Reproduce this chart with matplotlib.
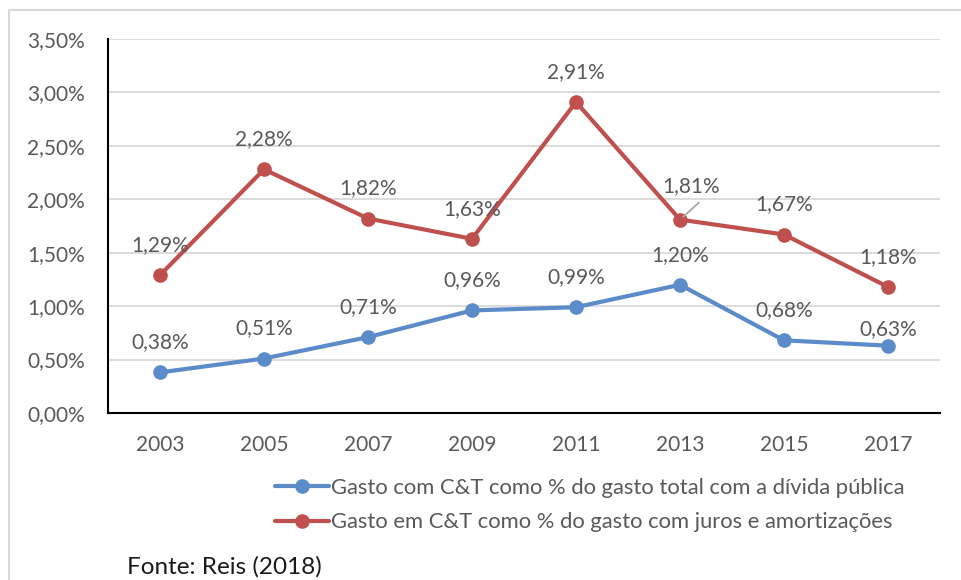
import matplotlib.pyplot as plt
from matplotlib.patches import Rectangle
from matplotlib.ticker import FuncFormatter, MultipleLocator

years = ['2003', '2005', '2007', '2009', '2011', '2013', '2015', '2017']
divida_total = [0.38, 0.51, 0.71, 0.96, 0.99, 1.20, 0.68, 0.63]
juros_amort = [1.29, 2.28, 1.82, 1.63, 2.91, 1.81, 1.67, 1.18]

label_blue = 'Gasto com C&T como % do gasto total com a dívida pública'
label_red = 'Gasto em C&T como % do gasto com juros e amortizações'

BLUE = '#5b8bc8'
RED = '#c0504d'
GRAY_TXT = '#595959'
GRID = '#d9d9d9'
FS = 15

plt.rcParams['font.family'] = ['Lato', 'DejaVu Sans']


def pct(v):
    return f'{v:.2f}'.replace('.', ',') + '%'


def main():
    fig = plt.figure(figsize=(9.61, 5.8), dpi=100)
    ax = fig.add_axes([108 / 961, 167 / 580, 832 / 961, 374 / 580])

    # outer chart frame (only top and left are inside the crop)
    fig.patches.append(Rectangle((9 / 961, -0.1), 1.2, 0.1 + 570 / 580,
                                 transform=fig.transFigure, fill=False,
                                 edgecolor=GRID, lw=1.5))

    x = list(range(len(years)))
    ax.plot(x, divida_total, color=BLUE, lw=3, marker='o', ms=9.5,
            solid_capstyle='round', label=label_blue, zorder=3)
    ax.plot(x, juros_amort, color=RED, lw=3, marker='o', ms=9.5,
            solid_capstyle='round', label=label_red, zorder=3)

    for i, v in enumerate(divida_total):
        dy = 17 if i == 7 else 30
        ax.annotate(pct(v), (i, v), xytext=(0, dy), textcoords='offset pixels',
                    ha='center', va='center', fontsize=FS, color=GRAY_TXT)
    for i, v in enumerate(juros_amort):
        if i == 5:
            ax.annotate(pct(v), (i, v), xytext=(11, 33), textcoords='offset pixels',
                        ha='center', va='center', fontsize=FS, color=GRAY_TXT)
            # leader line
            ax.annotate('', (i, v), xytext=(19, 17), textcoords='offset pixels',
                        arrowprops=dict(arrowstyle='-', color='#a6a6a6', lw=1.3,
                                        shrinkA=0, shrinkB=3))
        else:
            ax.annotate(pct(v), (i, v), xytext=(0, 30), textcoords='offset pixels',
                        ha='center', va='center', fontsize=FS, color=GRAY_TXT)

    ax.set_xlim(-0.5, len(years) - 0.5)
    ax.set_ylim(0, 3.5)
    ax.set_xticks(x)
    ax.set_xticklabels(years)
    ax.yaxis.set_major_locator(MultipleLocator(0.5))
    ax.yaxis.set_major_formatter(FuncFormatter(lambda v, p: pct(v)))
    ax.tick_params(length=0, labelsize=FS, labelcolor=GRAY_TXT)
    ax.tick_params(axis='x', pad=16)
    ax.tick_params(axis='y', pad=16.5)

    ax.grid(axis='y', color=GRID, lw=1.3)
    ax.set_axisbelow(True)
    for s in ['top', 'right']:
        ax.spines[s].set_visible(False)
    for s in ['left', 'bottom']:
        ax.spines[s].set_color('black')
        ax.spines[s].set_linewidth(1.5)

    ax.legend(loc='upper left', bbox_to_anchor=(275 / 961, 1 - 478 / 580),
              bbox_transform=fig.transFigure, frameon=False, fontsize=FS + 0.8,
              handlelength=2.45, handletextpad=0.12, labelspacing=0.65,
              labelcolor=GRAY_TXT, borderaxespad=0, borderpad=0)

    fig.text(127 / 961, 1 - 567 / 580, 'Fonte: Reis (2018)', fontsize=17.5,
             color='#1a1a1a', va='center', ha='left')

    fig.savefig('out.png', dpi=100)


if __name__ == '__main__':
    main()
